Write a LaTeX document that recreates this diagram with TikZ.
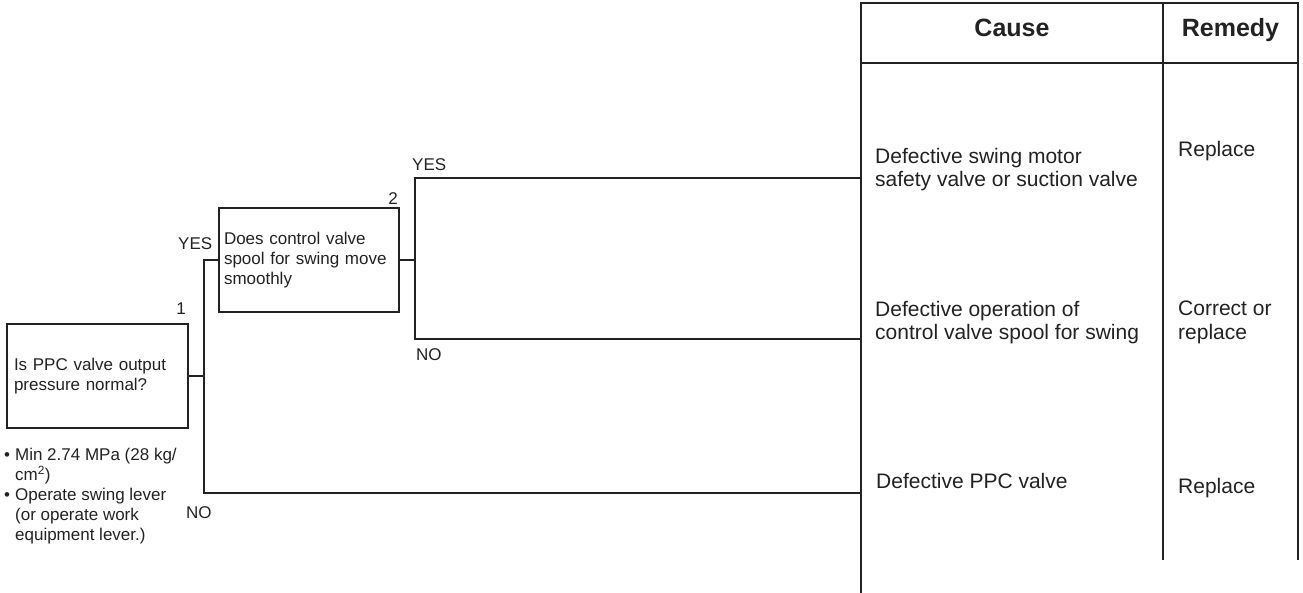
\documentclass[tikz,border=0pt]{standalone}
\usepackage{fontspec}
\setmainfont{Liberation Sans}
\definecolor{ink}{HTML}{222222}
\begin{document}
\begin{tikzpicture}[x=1pt,y=-1pt,
  line/.style={draw=ink,line width=1.05pt},
  qbox/.style={line,rectangle,inner xsep=7pt,inner ysep=0pt,align=left,font=\fontsize{17}{20}\selectfont,text=ink},
  lbl/.style={inner sep=0pt,font=\fontsize{17}{20}\selectfont,text=ink},
  cause/.style={inner sep=0pt,anchor=base west,align=left,font=\fontsize{21}{23.5}\selectfont,text=ink},
  head/.style={inner sep=0pt,anchor=base,font=\fontsize{25}{28}\selectfont\bfseries,text=ink}]
\useasboundingbox (0,0) rectangle (1303,593);
% table
\coordinate (tl) at (861,3);
\coordinate (tr) at (1298,3);
\coordinate (hl) at (861,63);
\coordinate (hr) at (1298,63);
\coordinate (bl) at (861,593);
\coordinate (mt) at (1163,3);
\coordinate (mb) at (1163,560);
\coordinate (rb) at (1298,560);
\draw[line] (bl) -- (tl) -- (tr) -- (rb);
\draw[line] (hl) -- (hr);
\draw[line] (mt) -- (mb);
\node[head] (hcause) at (1012,37) {Cause};
\node[head] (hrem) at (1230.5,37) {Remedy};
% question boxes
\node[qbox,minimum width=181,minimum height=104,text width=167] (b1) at (97.5,376) {Is PPC valve output\\pressure normal?};
\node[qbox,inner xsep=5pt,minimum width=180,minimum height=104,text width=170] (b2) at (309,260) {Does control valve\\spool for swing move\\smoothly};
\node[lbl,anchor=base east] (n1) at (186,315) {1};
\node[lbl,anchor=base east] (n2) at (398,205) {2};
% notes
\node[lbl,anchor=base west] (notes) at (4,460) {\begin{tabular}[t]{@{}l@{\hspace{5pt}}l@{}}\textbullet & Min 2.74 MPa (28 kg/\\ & cm\textsuperscript{2})\\ \textbullet & Operate swing lever\\ & (or operate work\\ & equipment lever.)\end{tabular}};
% junctions and ends
\coordinate (s1) at (204,377);
\coordinate (s2) at (415,262);
\coordinate (e1) at (861,178);
\coordinate (e2) at (861,339);
\coordinate (e3) at (861,493);
\draw[line] (b1.east) -- (b1.east -| s1);
\draw[line] (b2.west) -- (b2.west -| s1) -- (s1 |- e3) -- (e3);
\draw[line] (b2.east) -- (b2.east -| s2);
\draw[line] (e1) -- (e1 -| s2) -- (s2 |- e2) -- (e2);
% branch labels
\node[lbl,anchor=base west] (y1) at (178,250) {YES};
\node[lbl,anchor=base west] (no1) at (186,518) {NO};
\node[lbl,anchor=base west] (y2) at (412,171) {YES};
\node[lbl,anchor=base west] (no2) at (416,360) {NO};
% causes (anchor base = last line)
\node[cause] (c1) at (875,187) {Defective swing motor\\safety valve or suction valve};
\node[cause] (c2) at (875,340) {Defective operation of\\control valve spool for swing};
\node[cause] (c3) at (876,488) {Defective PPC valve};
% remedies
\node[cause] (r1) at (1178,157) {Replace};
\node[cause] (r2) at (1178,339) {Correct or\\replace};
\node[cause] (r3) at (1178,493) {Replace};
\end{tikzpicture}
\end{document}
